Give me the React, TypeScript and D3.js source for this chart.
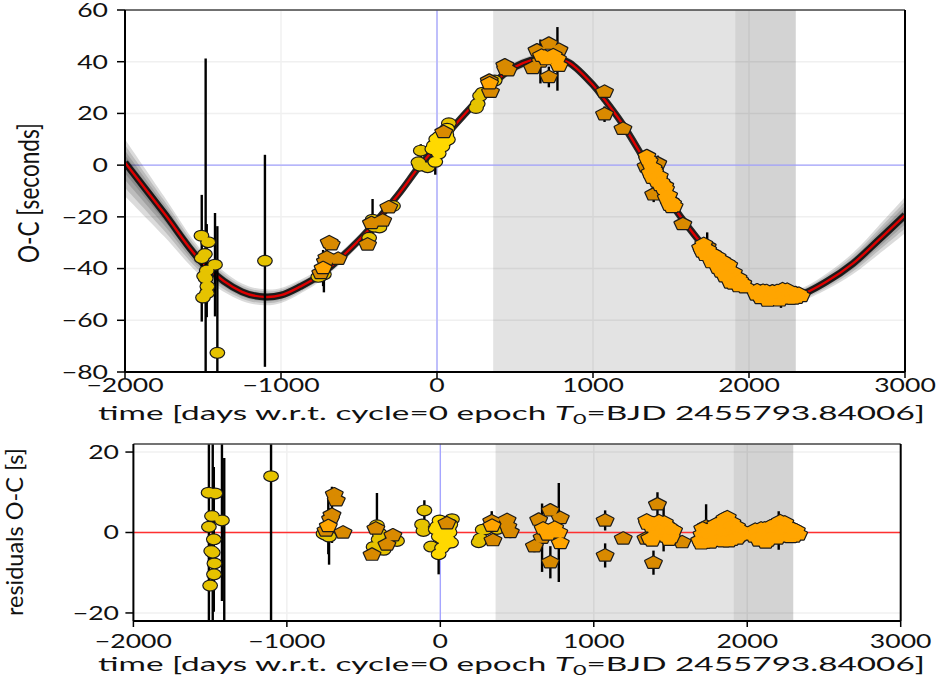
import React from 'react';
import * as d3 from 'd3';

// Best-fit light-travel-time model (days, seconds)
const modelT = [-2000, -1750, -1500, -1250, -1100, -1000, -878, -750, -500, -250, -120, 0, 125, 250, 337, 436, 500, 600, 690, 780, 850, 1000, 1070, 1190, 1345, 1515, 1710, 1878, 2038, 2200, 2327, 2498, 2667, 2830, 3000];
const modelV = [1, -18.5, -38, -49, -51, -50.3, -47, -42.5, -29, -11.5, -1, 7.5, 16.2, 24.5, 30, 35.5, 38, 40.5, 41.5, 41, 39.5, 31, 25.7, 15.8, 0.5, -16, -31.5, -43.1, -48.9, -50.9, -50.2, -45, -38, -29, -19.3];

// Spread of the posterior sample curves above / below the model (seconds)
const bandT = [-2000, -1750, -1500, -1250, -1000, -750, -500, 0, 700, 1500, 2000, 2300, 2600, 3000];
const bandUp = [9, 6.5, 4.5, 3.2, 2.8, 2.4, 2.2, 2, 1.8, 2, 2, 2.3, 3.5, 7];
const bandDn = [13, 9, 5.5, 3.5, 3, 2.4, 2.2, 2, 1.8, 2, 2, 2.3, 3.5, 7];

// Timings: [time, O-C, residual, error]
const yellowDark = [
  [-1510, -27.3, 9.9, 1.1], [-1467, -29.8, 9.7, 1.1], [-1488, -34.4, 4.1, 1.1], [-1508, -36, 1.4, 24.5],
  [-1476, -40.8, -1.7, 18], [-1493, -42.9, -4.6, 4], [-1483, -43.8, -5, 85], [-1472, -46.9, -7.7, 1.1],
  [-1475, -49.5, -10.4, 4], [-1500, -51.2, -13.2, 1.1], [-1423, -38.5, 3, 20], [-1408, -72.6, -30.5, 49],
  [-1103, -37, 14, 41],
  [-761, -43.2, -0.3, 1.1], [-748, -42.9, -0.5, 1.1], [-725, -42.2, -1, 7],
  [-413, -21.1, 1.8, 8], [-435, -28.1, -3.6, 1.1], [-402, -23.8, -1.7, 1.1], [-369, -24.1, -4.3, 1.1],
  [-282, -15.8, -2.1, 1.1], [-395, -22, -0.3, 1.1],
  [-104, 5.6, 5.5, 2.5], [-119, 1.1, 2, 1.1], [-110, -0.2, 0.4, 1.1], [76, 16.2, 3.3, 1.1], [-60, -0.8, -3.5, 1.1],
  [250, 22.1, -2.4, 1.1], [276, 26.8, 0.7, 1.1], [261, 23.7, -1.5, 1.1], [293, 28, 0.8, 1.1], [370, 32.7, 0.9, 1.1],
];

const yellowBright = [
  [-30, 6.2, 0.8, 0.8], [-20, 7.6, 1.5, 0.8], [-10, 5.8, -1, 0.8], [0, 8, 0.5, 0.8], [5, 9.9, 2, 0.8],
  [10, 6.7, -1.5, 0.8], [11, 4.5, -3.8, 1.1], [-11, 1.3, -5.4, 5], [15, 11, 2.5, 0.8], [20, 9.4, 0.5, 0.8],
  [25, 8.8, -0.5, 0.8], [30, 8.1, -1.5, 0.8], [35, 7.2, -2.8, 0.8], [40, 11.3, 1, 0.8], [45, 10.7, 0, 0.8],
  [50, 9.2, -1.8, 0.8], [55, 12.6, 1.2, 0.8], [60, 11.7, 0, 0.8], [70, 9.9, -2.5, 0.8], [-5, 10.1, 3, 0.8],
  [65, 14.1, 2, 0.8],
];

const orangeDark = [
  [-691, -29.8, 9.5, 1.5], [-678, -30.6, 8, 1.1], [-706, -35.7, 4.4, 7], [-715, -37.2, 3.4, 1.1],
  [-634, -36.2, 0, 1.1], [-745, -41.7, 0.5, 1.1],
  [-445, -30.7, -5.5, 1.1], [-348, -21.4, -3, 1.1], [-309, -16.3, -0.7, 1.1], [-420, -22.4, 1, 1.1],
  [43, 12.8, 2.3, 1.1],
  [335, 32.7, 2.8, 2.5], [343, 28.4, -1.9, 1.1], [435, 38.6, 3.1, 1.1], [456, 36.7, 0.1, 1.5], [440, 37.2, 1.5, 1.1],
  [641, 44.4, 3.2, 1.1], [717, 47, 5.5, 1.1], [782, 44.6, 3.6, 1.1], [613, 37.6, -3.4, 1.5], [717, 34.1, -7.4, 4],
  [663, 40.1, -1.3, 8.5],
  [1074, 28.4, 3, 2.5], [1074, 19.7, -5.7, 3], [1192, 14.1, -1.5, 0.8],
  [1415, 0.7, 7, 3], [1389, -11.3, -7.5, 3], [1576, -22.8, -2.4, 0.8], [1340, -0.5, -1.5, 1.1],
  [1732, -31.5, 1.5, 5.5],
];

const orangeBright = [
  [-730, -39.8, 1.6, 7],
  [337, 31.7, 1.7, 1.1],
  [728, 41.8, 0.3, 1.1], [690, 42, 0.5, 1.1], [782, 38.4, -2.6, 1.1], [700, 41, -0.5, 1.1], [772, 41.1, 0, 12.3],
  [745, 42.5, 1.2, 1.1], [670, 42.3, 1, 1.1],
  [1345, 3.5, 3, 0.8], [1360, 1.5, 2.5, 0.8], [1375, -0.9, 1.5, 0.8], [1390, -1.9, 2, 0.8], [1400, -4.3, 0.5, 1.1],
  [1410, -6.3, -0.5, 0.8], [1420, -5.3, 1.5, 0.8], [1430, -7.7, 0, 0.8], [1440, -7.2, 1.5, 0.8], [1455, -9.2, 1, 5.7],
  [1470, -12.6, -1, 0.8], [1480, -11.8, 0.8, 0.8], [1495, -14, 0, 0.8], [1505, -16.2, -1.2, 0.8], [1520, -15.9, 0.5, 0.8],
  [1365, -2.9, -1.5, 0.8], [1380, -4.9, -2, 0.8], [1425, -4.3, 2.8, 0.8], [1460, -8, 2.5, 0.8], [1490, -15.3, -1.8, 0.8],
  [1350, 2.2, 2.2, 0.8], [1385, -1.1, 2.3, 0.8], [1395, -2.6, 1.7, 0.8], [1415, -4.5, 1.8, 0.8], [1435, -6.5, 1.7, 0.8],
  [1450, -8.9, 0.8, 0.8], [1465, -9.2, 1.9, 0.8], [1485, -11.7, 1.4, 0.8], [1500, -14.4, 0.1, 0.8], [1510, -14.8, 0.7, 0.8],
  [1690, -31.9, -2, 0.8], [1705, -31.6, -0.5, 0.8], [1720, -34.7, -2.5, 0.8], [1735, -32.7, 0.5, 0.8], [1750, -35.8, -1.5, 0.8],
  [1765, -34.3, 1, 0.8], [1780, -37.3, -1, 0.8], [1795, -35.4, 2, 0.8], [1810, -38.4, 0, 0.8], [1825, -36.9, 2.5, 0.8],
  [1840, -41.5, -1, 0.8], [1855, -38, 3.5, 0.8], [1870, -38.7, 3.8, 0.8], [1870, -41.5, 1, 0.8], [1885, -41.4, 2, 0.8],
  [1900, -41.5, 2.5, 0.8], [1915, -44.5, 0, 0.8], [1930, -43.6, 1.5, 0.8], [1945, -46.6, -1, 0.8], [1960, -45.7, 0.5, 0.8],
  [1975, -47.2, -0.5, 0.8], [1820, -41.1, -2, 0.8], [1880, -45.4, -2.2, 0.8], [1760, -37.5, -2.5, 0.8], [1700, -33.4, -2.7, 1.1],
  [1710, -30.5, 1, 0.8], [1745, -33.9, 0, 0.8], [1775, -34.9, 1, 0.8], [1790, -37.5, -0.5, 0.8], [1835, -38.7, 1.5, 0.8],
  [1850, -39.7, 1.5, 0.8], [1862, -40, 2, 0.8], [1892, -42.2, 1.5, 0.8], [1908, -43.8, 0.5, 0.8], [1925, -45.4, -0.5, 0.8],
  [1940, -44.6, 0.8, 0.8], [1955, -46.7, -0.7, 0.8], [1800, -39.7, -2, 0.8], [1845, -43, -2.2, 0.8], [1900, -45.8, -1.8, 0.8],
  [1935, -46.8, -1.5, 0.8],
  [2045, -50, -1, 0.8], [2060, -49.2, 0, 0.8], [2075, -51.4, -2, 0.8], [2090, -48.6, 1, 0.8], [2105, -51.2, -1.5, 0.8],
  [2120, -49.4, 0.5, 0.8], [2135, -52.1, -2, 0.8], [2150, -48.8, 1.5, 0.8], [2165, -50.5, 0, 0.8], [2180, -48.7, 2, 0.8],
  [2195, -52.3, -1.5, 0.8], [2205, -50.4, 0.5, 4.8], [2215, -48, 2.8, 0.8], [2230, -49.7, 1, 0.8], [2245, -48.2, 2.5, 0.8],
  [2260, -51.6, -1, 0.8], [2275, -49.5, 1, 0.8], [2290, -50.4, 0, 0.8], [2305, -51.3, -1, 0.8], [2320, -49.7, 0.5, 0.8],
  [2335, -50.6, -0.5, 0.8], [2120, -52.4, -2.5, 0.8], [2080, -48.9, 0.5, 0.8],
  [2052, -48.4, 0.7, 0.8], [2068, -50.5, -1.2, 0.8], [2098, -50.6, -1, 0.8], [2112, -48.7, 1, 0.8], [2142, -51, -0.8, 0.8],
  [2158, -49.2, 1.2, 0.8], [2172, -51.5, -1, 0.8], [2188, -49.5, 1.3, 0.8], [2222, -49.8, 1, 0.8], [2238, -48.6, 2, 0.8],
  [2252, -50.2, 0.5, 0.8], [2268, -49.4, 1.2, 0.8], [2283, -51.6, -1.1, 0.8], [2298, -49.5, 0.9, 0.8], [2312, -50.5, -0.2, 0.8],
];

// Observing windows (days)
const spanWide = [360, 2300];
const spanNarrow = [1912, 2300];

const xTicks = [-2000, -1000, 0, 1000, 2000, 3000];
const topYTicks = [60, 40, 20, 0, -20, -40, -60, -80];
const botYTicks = [20, 0, -20];

const FONT = "Lato, 'DejaVu Sans', sans-serif";
const SX = 1.4; // horizontal stretch of the figure
const W = 943;
const H = 684;

const fmt = (v: number) => (v < 0 ? '\u2212' + Math.abs(v) : String(v));

function pentagon(r: number) {
  const pts: string[] = [];
  for (let k = 0; k < 5; k++) {
    const a = -Math.PI / 2 + (k * 2 * Math.PI) / 5;
    pts.push(`${(Math.cos(a) * r * SX).toFixed(2)},${(Math.sin(a) * r).toFixed(2)}`);
  }
  return 'M' + pts.join('L') + 'Z';
}

const series = [
  { data: yellowDark, shape: 'circle', fill: '#e6c300' },
  { data: yellowBright, shape: 'circle', fill: '#ffd900' },
  { data: orangeDark, shape: 'pent', fill: '#d98a00' },
  { data: orangeBright, shape: 'pent', fill: '#ffa500' },
];

const PENT = pentagon(6.2);
const CR = 4.8;

export default function App() {
  const top = { l: 125, r: 905, t: 10, b: 372 };
  const bot = { l: 133.4, r: 900.7, t: 444, b: 621 };
  const xTop = d3.scaleLinear().domain([-2000, 3000]).range([top.l, top.r]);
  const yTop = d3.scaleLinear().domain([-80, 60]).range([top.b, top.t]);
  const xBot = d3.scaleLinear().domain([-2000, 3000]).range([bot.l, bot.r]);
  const yBot = d3.scaleLinear().domain([-22, 22]).range([bot.b, bot.t]);

  const model = modelT.map((t, i) => [t, modelV[i]]);
  const upS = d3.scaleLinear().domain(bandT).range(bandUp);
  const dnS = d3.scaleLinear().domain(bandT).range(bandDn);
  const curve = d3.curveCatmullRom.alpha(0.5);
  const line = d3.line<number[]>().x((d) => xTop(d[0])).y((d) => yTop(d[1])).curve(curve);
  const area = (k: number) =>
    d3
      .area<number[]>()
      .x((d) => xTop(d[0]))
      .y0((d) => yTop(d[1] - dnS(d[0]) * k))
      .y1((d) => yTop(d[1] + upS(d[0]) * k))
      .curve(curve);
  const bandLayers = [1, 0.75, 0.52, 0.32];

  // one marker glyph; outlines are laid down under the fills so that
  // overlapping points of one series merge into a single outlined blob
  const glyph = (s: (typeof series)[number], x: number, y: number, key: number) =>
    s.shape === 'circle' ? (
      <ellipse key={key} cx={x} cy={y} rx={CR * SX} ry={CR} />
    ) : (
      <path key={key} d={PENT} transform={`translate(${x},${y})`} />
    );

  const markers = (x: (v: number) => number, y: (v: number) => number, col: number) => (
    <g>
      {series.map((s, si) => (
        <g key={'e' + si} stroke="#000" strokeWidth={2.4}>
          {s.data.map((d, i) => (
            <line key={i} x1={x(d[0])} x2={x(d[0])} y1={y(d[col] - d[3])} y2={y(d[col] + d[3])} />
          ))}
        </g>
      ))}
      {series.map((s, si) => (
        <g key={'m' + si}>
          <g fill="#1a1a1a" stroke="#1a1a1a" strokeWidth={2.4} strokeLinejoin="round">
            {s.data.map((d, i) => glyph(s, x(d[0]), y(d[col]), i))}
          </g>
          <g fill={s.fill}>{s.data.map((d, i) => glyph(s, x(d[0]), y(d[col]), i))}</g>
        </g>
      ))}
    </g>
  );

  const frame = (p: typeof top) => (
    <g fill="none">
      <line x1={p.l} x2={p.r} y1={p.t} y2={p.t} stroke="#444" strokeWidth={1.5} />
      <line x1={p.l} x2={p.l} y1={p.t} y2={p.b} stroke="#000" strokeWidth={2} />
      <line x1={p.r} x2={p.r} y1={p.t} y2={p.b} stroke="#000" strokeWidth={2} />
      <line x1={p.l} x2={p.r} y1={p.b} y2={p.b} stroke="#000" strokeWidth={2} />
    </g>
  );

  const label = (x: number, y: number, txt: string, anchor: string, size = 19) => (
    <text
      transform={`translate(${x},${y}) scale(${SX},1)`}
      textAnchor={anchor}
      fontFamily={FONT}
      fontSize={size}
      fill="#111"
    >
      {txt}
    </text>
  );

  const xTitle = (y: number) => (
    <text
      transform={`translate(98,${y}) scale(${SX},1)`}
      fontFamily={FONT}
      fontSize={20}
      fill="#111"
      textLength={(925 - 98) / SX}
      lengthAdjust="spacingAndGlyphs"
    >
      time [days w.r.t. cycle=0 epoch <tspan fontStyle="italic">T</tspan>
      <tspan fontSize={14} dy={4}>0</tspan>
      <tspan dy={-4}>=BJD 2455793.84006]</tspan>
    </text>
  );

  return (
    <svg width={W} height={H} style={{ position: 'absolute', left: 0, top: 0, background: '#fff' }}>
      <defs>
        <clipPath id="clipTop">
          <rect x={top.l} y={top.t} width={top.r - top.l} height={top.b - top.t} />
        </clipPath>
        <clipPath id="clipBot">
          <rect x={bot.l} y={bot.t} width={bot.r - bot.l} height={bot.b - bot.t} />
        </clipPath>
      </defs>

      {/* ---------- upper panel: O-C with model ---------- */}
      <g clipPath="url(#clipTop)">
        <g stroke="#f0f0f0" strokeWidth={1.5}>
          {xTicks.map((t) => (
            <line key={'gx' + t} x1={xTop(t)} x2={xTop(t)} y1={top.t} y2={top.b} />
          ))}
          {topYTicks.map((v) => (
            <line key={'gy' + v} x1={top.l} x2={top.r} y1={yTop(v)} y2={yTop(v)} />
          ))}
        </g>
        <rect x={xTop(spanWide[0])} width={xTop(spanWide[1]) - xTop(spanWide[0])} y={top.t} height={top.b - top.t} fill="#000" fillOpacity={0.11} />
        <rect x={xTop(spanNarrow[0])} width={xTop(spanNarrow[1]) - xTop(spanNarrow[0])} y={top.t} height={top.b - top.t} fill="#000" fillOpacity={0.065} />
        <line x1={xTop(0)} x2={xTop(0)} y1={top.t} y2={top.b} stroke="#a3a3ff" strokeWidth={1.3} />
        <line x1={top.l} x2={top.r} y1={yTop(0)} y2={yTop(0)} stroke="#a3a3ff" strokeWidth={1.3} />
        {bandLayers.map((k) => (
          <path key={k} d={area(k)(model) || ''} fill="#000" fillOpacity={0.14} />
        ))}
        <path d={line(model) || ''} fill="none" stroke="#000" strokeOpacity={0.82} strokeWidth={7} />
        <path d={line(model) || ''} fill="none" stroke="#dd0000" strokeWidth={2.4} />
        {markers(xTop, yTop, 1)}
      </g>
      {frame(top)}
      <g stroke="#000" strokeWidth={1.5}>
        {xTicks.map((t) => (
          <line key={'tx' + t} x1={xTop(t)} x2={xTop(t)} y1={top.b} y2={top.b + 6} />
        ))}
        {topYTicks.map((v) => (
          <line key={'ty' + v} x1={top.l - 8} x2={top.l} y1={yTop(v)} y2={yTop(v)} />
        ))}
      </g>
      {xTicks.map((t) => (
        <g key={'lx' + t}>{label(xTop(t), 392, fmt(t), 'middle')}</g>
      ))}
      {topYTicks.map((v) => (
        <g key={'ly' + v}>{label(108, yTop(v) + 6.8, fmt(v), 'end')}</g>
      ))}
      {xTitle(420)}
      <text
        transform={`translate(28,193) scale(${SX},1) rotate(-90)`}
        textAnchor="middle"
        dominantBaseline="central"
        fontFamily={FONT}
        fontSize={20}
        fill="#111"
        textLength={140}
        lengthAdjust="spacingAndGlyphs"
      >
        O-C [seconds]
      </text>

      {/* ---------- lower panel: residuals ---------- */}
      <g clipPath="url(#clipBot)">
        <g stroke="#f0f0f0" strokeWidth={1.5}>
          {xTicks.map((t) => (
            <line key={'bgx' + t} x1={xBot(t)} x2={xBot(t)} y1={bot.t} y2={bot.b} />
          ))}
          {botYTicks.map((v) => (
            <line key={'bgy' + v} x1={bot.l} x2={bot.r} y1={yBot(v)} y2={yBot(v)} />
          ))}
        </g>
        <rect x={xBot(spanWide[0])} width={xBot(spanWide[1]) - xBot(spanWide[0])} y={bot.t} height={bot.b - bot.t} fill="#000" fillOpacity={0.11} />
        <rect x={xBot(spanNarrow[0])} width={xBot(spanNarrow[1]) - xBot(spanNarrow[0])} y={bot.t} height={bot.b - bot.t} fill="#000" fillOpacity={0.065} />
        <line x1={xBot(0)} x2={xBot(0)} y1={bot.t} y2={bot.b} stroke="#a3a3ff" strokeWidth={1.3} />
        <line x1={bot.l} x2={bot.r} y1={yBot(0)} y2={yBot(0)} stroke="#ff3030" strokeWidth={1.6} />
        {markers(xBot, yBot, 2)}
      </g>
      {frame(bot)}
      <g stroke="#000" strokeWidth={1.5}>
        {xTicks.map((t) => (
          <line key={'btx' + t} x1={xBot(t)} x2={xBot(t)} y1={bot.b} y2={bot.b + 6} />
        ))}
        {botYTicks.map((v) => (
          <line key={'bty' + v} x1={bot.l - 8} x2={bot.l} y1={yBot(v)} y2={yBot(v)} />
        ))}
      </g>
      {xTicks.map((t) => (
        <g key={'blx' + t}>{label(xBot(t), 647.5, fmt(t), 'middle')}</g>
      ))}
      {botYTicks.map((v) => (
        <g key={'bly' + v}>{label(119, yBot(v) + 6.8, fmt(v), 'end')}</g>
      ))}
      {xTitle(671)}
      <text
        transform={`translate(14,532) scale(${SX},1) rotate(-90)`}
        textAnchor="middle"
        dominantBaseline="central"
        fontFamily={FONT}
        fontSize={17}
        fill="#111"
        textLength={168}
        lengthAdjust="spacingAndGlyphs"
      >
        residuals O-C [s]
      </text>
    </svg>
  );
}
